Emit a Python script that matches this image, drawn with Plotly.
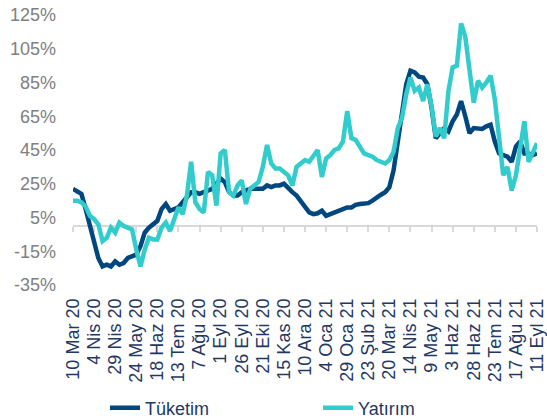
import pandas as pd
import plotly.graph_objects as go

# --- data (one point every 5 days) ---
start_date = "2020-03-10"
dates = pd.date_range(start_date, periods=111, freq="5D")

tuketim = [
    22, 20.5, 19, 10, 0, -9, -19, -24, -23, -24,
    -21, -23, -22, -19, -18, -17, -12, -4, -1, 1,
    3, 10, 13, 9, 10, 11, 14, 17, 20, 20,
    19, 20, 21, 22, 25, 28, 26, 20, 18, 18,
    20, 21, 22, 22, 22, 22, 24, 23, 24, 24,
    25, 22, 20, 18, 15, 11, 8, 7, 7.5, 9,
    6, 7, 8, 9, 9.5, 11, 11, 12.5, 13, 13,
    13.5, 15, 17, 18.5, 20, 23, 33, 51, 69, 84,
    92, 91, 88.5, 88, 84, 70, 52, 55, 58, 56,
    62, 66, 74, 65, 55, 58, 57.5, 57.5, 59, 60,
    50, 43, 42, 41, 38, 47, 50, 43, 43, 42,
    43,
]

yatirim = [
    15, 15, 14, 11.5, 6, 4, 1, -9, -7, -1,
    -4, 2, 0, -1, -2, -14, -24, -14, -7, -8,
    -8, -1, 2, -3, 4, 11, 7, 18, 38, 14,
    10, 8, 32, 30, 12, 43, 45, 20, 18, 24,
    27, 13, 22, 24, 26, 35, 48, 37, 34, 34,
    32, 30, 24, 35, 37, 39, 38, 41, 45, 29,
    40, 42, 45, 46, 50, 68, 52, 51, 47, 43,
    42, 41, 39, 38, 37, 39, 44, 58, 64, 78,
    88, 80, 82, 74, 84, 71, 53, 58, 52, 80,
    94, 95, 120, 112, 90, 73, 86, 82, 85, 89,
    75, 50, 30, 35, 21, 30, 46, 62, 38, 44,
    49,
]

tick_dates = pd.date_range(start_date, "2021-09-11", freq="25D")
tick_labels = [
    "10 Mar 20", "4 Nis 20", "29 Nis 20", "24 May 20", "18 Haz 20",
    "13 Tem 20", "7 Ağu 20", "1 Eyl 20", "26 Eyl 20", "21 Eki 20",
    "15 Kas 20", "10 Ara 20", "4 Oca 21", "29 Oca 21", "23 Şub 21",
    "20 Mar 21", "14 Nis 21", "9 May 21", "3 Haz 21", "28 Haz 21",
    "23 Tem 21", "17 Ağu 21", "11 Eyl 21",
]
y_ticks = [-35, -15, 5, 25, 45, 65, 85, 105, 125]

FONT = "Liberation Sans, Arial, sans-serif"
NAVY_TEXT = "#1F3864"

fig = go.Figure()
fig.add_trace(go.Scatter(
    x=dates, y=tuketim, name="Tüketim", mode="lines",
    line=dict(color="#00467F", width=4.5), cliponaxis=False,
    legend="legend",
))
fig.add_trace(go.Scatter(
    x=dates, y=yatirim, name="Yatırım", mode="lines",
    line=dict(color="#33CCCC", width=4.5), cliponaxis=False,
    legend="legend2",
))
# invisible helper so the 0% axis line (xaxis2) gets drawn
fig.add_trace(go.Scatter(
    x=[dates[0]], y=[tuketim[0]], mode="none", xaxis="x2",
    showlegend=False, hoverinfo="skip",
))

legend_style = dict(
    orientation="h", xanchor="left", yref="container", y=0.026,
    yanchor="middle", font=dict(size=18, color=NAVY_TEXT),
    bgcolor="rgba(0,0,0,0)",
)

fig.update_layout(
    width=547, height=419,
    margin=dict(l=73, r=10, t=15, b=134),
    plot_bgcolor="white", paper_bgcolor="white",
    font=dict(family=FONT, size=18, color=NAVY_TEXT),
    showlegend=True,
    legend=dict(legend_style, x=0.069),
    legend2=dict(legend_style, x=0.528),
    xaxis=dict(
        range=[start_date, "2021-09-11"],
        tickvals=tick_dates, ticktext=tick_labels,
        tickangle=-90, tickfont=dict(size=18, color=NAVY_TEXT),
        showgrid=False, showline=False, zeroline=False,
        ticks="", ticklabelstandoff=9, automargin=False,
    ),
    # x-axis line with tick marks drawn at the 0% level
    xaxis2=dict(
        overlaying="x", matches="x", anchor="free", position=35 / 160,
        tickvals=tick_dates, showticklabels=False,
        showline=True, linecolor="#D9D9D9", linewidth=1.5,
        ticks="outside", ticklen=5, tickcolor="#D9D9D9", tickwidth=1.5,
        showgrid=False, zeroline=False, layer="below traces",
        automargin=False,
    ),
    yaxis=dict(
        range=[-35, 125], tickvals=y_ticks,
        ticktext=[f"{v}%" for v in y_ticks],
        tickfont=dict(size=18, color="#808080"),
        showgrid=False, showline=False, zeroline=False,
        ticks="", ticklabelstandoff=16, automargin=False,
    ),
)

# page body margin would shift the 547x419 figure, so drop it
fig.write_html(
    "out.html",
    config={"displayModeBar": False},
    post_script="document.body.style.margin='0';",
)
